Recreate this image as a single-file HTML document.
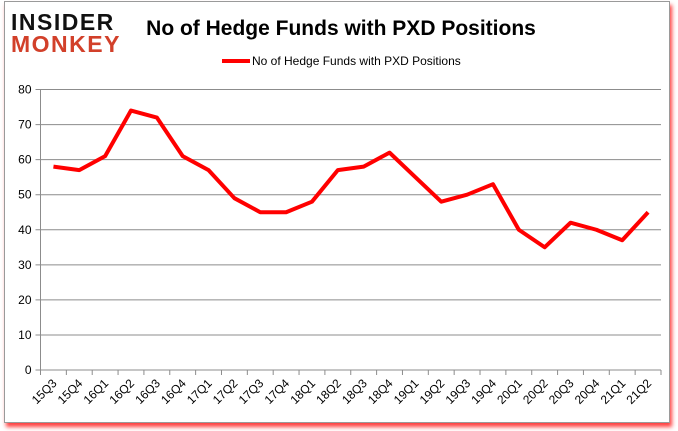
<!DOCTYPE html>
<html><head><meta charset="utf-8"><style>
html,body{margin:0;padding:0;background:#fff;width:678px;height:431px;overflow:hidden;font-family:"Liberation Sans",Arial,sans-serif}
#frame{position:absolute;left:4px;top:1px;width:664px;height:420px;border:1px solid #9a9a9a;background:#fff;box-shadow:2px 4px 4px rgba(255,0,0,0.75)}
</style></head><body>
<div id="frame"></div>
<svg id="chart" width="678" height="431" style="position:absolute;left:0;top:0">
<text x="11" y="30" font-family="Liberation Sans" font-weight="bold" font-size="23" fill="#111" letter-spacing="1.5">INSIDER</text>
<text x="11" y="52" font-family="Liberation Sans" font-weight="bold" font-size="23" fill="#d2402a" letter-spacing="1.5">MONKEY</text>
<text x="341" y="35" text-anchor="middle" font-weight="bold" font-size="21" fill="#000">No of Hedge Funds with PXD Positions</text>
<line x1="222" y1="61" x2="250" y2="61" stroke="#ff0000" stroke-width="4"/>
<text x="252" y="65" font-size="12" fill="#000">No of Hedge Funds with PXD Positions</text>
<g id="grid"></g><g id="axes"></g><g id="series"></g>
</svg>
<script>
const categories=["15Q3","15Q4","16Q1","16Q2","16Q3","16Q4","17Q1","17Q2","17Q3","17Q4","18Q1","18Q2","18Q3","18Q4","19Q1","19Q2","19Q3","19Q4","20Q1","20Q2","20Q3","20Q4","21Q1","21Q2"];
const values=[58,57,61,74,72,61,57,49,45,45,48,57,58,62,55,48,50,53,40,35,42,40,37,45];
const yTicks=[0,10,20,30,40,50,60,70,80];
const NS="http://www.w3.org/2000/svg";
const x0=40.5,x1=661,y0=370,yTop=89.5,yMax=80;
const step=(x1-x0)/categories.length;
const xs=i=>x0+step*(i+0.5);
const ys=v=>y0-(v/yMax)*(y0-yTop);
function mk(t,a,p){const e=document.createElementNS(NS,t);for(const k in a)e.setAttribute(k,a[k]);p.appendChild(e);return e;}
const grid=document.getElementById('grid'),axes=document.getElementById('axes'),ser=document.getElementById('series');
yTicks.forEach(v=>{
 const l=mk('line',{x1:x0-5,x2:x1,y1:ys(v),y2:ys(v),stroke:'#8c8c8c','stroke-width':1},grid);
 
 
 const t=mk('text',{x:x0-9,y:ys(v)+4,'text-anchor':'end','font-size':12,fill:'#000'},axes);
 t.textContent=v;
 
 
});
const ya=mk('line',{x1:x0,x2:x0,y1:yTop,y2:y0,stroke:'#8c8c8c'},axes);


categories.forEach((c,i)=>{
 const tx=x0+step*(i+1);
 mk('line',{x1:tx,x2:tx,y1:y0,y2:y0+5,stroke:'#8c8c8c'},axes);
 const cx=xs(i);
 const t=mk('text',{x:cx+4,y:y0+14,'text-anchor':'end','font-size':12,fill:'#000',transform:`rotate(-45 ${cx+4} ${y0+14})`},axes);
 t.textContent=c;
 
 
});
mk('line',{x1:x0,x2:x0,y1:y0,y2:y0+5,stroke:'#8c8c8c'},axes);
const p=mk('polyline',{points:values.map((v,i)=>xs(i)+','+ys(v)).join(' '),fill:'none',stroke:'#ff0000','stroke-width':4,'stroke-linejoin':'round'},ser);


</script>
</body></html>
